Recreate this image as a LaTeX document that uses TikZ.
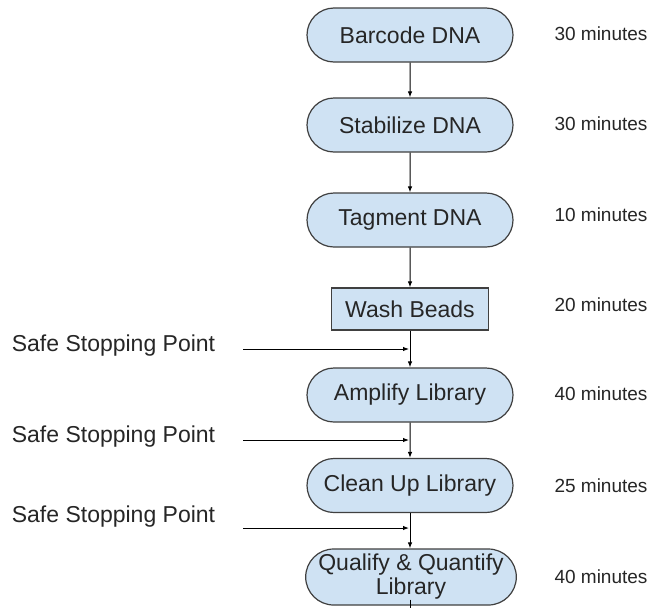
\documentclass[tikz,border=0pt]{standalone}
\usepackage{fontspec}
\setmainfont{Liberation Sans}
\usetikzlibrary{shapes.misc,arrows.meta}
\definecolor{boxfill}{HTML}{CFE2F3}
\definecolor{boxline}{HTML}{404040}
\definecolor{txt}{HTML}{262626}
\begin{document}
\begin{tikzpicture}[x=1pt,y=-1pt,
  stadium/.style={rounded rectangle, draw=boxline, line width=1.2pt, fill=boxfill,
    minimum width=210pt, minimum height=54pt, inner sep=2pt, text=txt,
    font=\fontsize{23}{27}\selectfont, align=center},
  plainbox/.style={rectangle, draw=boxline, line width=1.2pt, fill=boxfill,
    minimum width=157pt, minimum height=42pt, text=txt,
    font=\fontsize{23}{27}\selectfont},
  timelbl/.style={text=txt, font=\fontsize{19}{22}\selectfont, inner sep=0pt},
  stoplbl/.style={text=txt, font=\fontsize{23}{27}\selectfont, inner sep=0pt},
  flow/.style={draw=black, line width=1pt, -{Latex[length=6pt,width=4.5pt]}},
  plainline/.style={draw=black, line width=1pt}
]
\useasboundingbox (0,0) rectangle (655,608);
\fill[white] (0,0) rectangle (655,608);

\node[stadium] (b) at (410,35) {Barcode DNA};
\node[stadium] (s) at (410,125) {Stabilize DNA};
\node[stadium] (t) at (410,220) {Tagment DNA};
\node[plainbox] (w) at (410,309) {Wash Beads};
\node[stadium] (a) at (410,395) {Amplify Library};
\node[stadium] (c) at (410,485.5) {Clean Up Library};
\node[stadium, minimum height=56pt, inner sep=1pt] (q) at (411,577)
  {Qualify \& Quantify\\[-3pt]Library};

\node[timelbl] (tb) at (601,34) {30 minutes};
\node[timelbl] (ts) at (601,124) {30 minutes};
\node[timelbl] (tt) at (601,215) {10 minutes};
\node[timelbl] (tw) at (601,305) {20 minutes};
\node[timelbl] (ta) at (601,394) {40 minutes};
\node[timelbl] (tc) at (601,486) {25 minutes};
\node[timelbl] (tq) at (601,577) {40 minutes};

\node[stoplbl] (p1) at (113.5,346) {Safe Stopping Point};
\node[stoplbl] (p2) at (113.5,437) {Safe Stopping Point};
\node[stoplbl] (p3) at (113.5,517) {Safe Stopping Point};

\coordinate (p1s) at (243,349);
\coordinate (p1e) at (409,349);
\coordinate (p2s) at (243,440);
\coordinate (p2e) at (409,440);
\coordinate (p3s) at (243,528);
\coordinate (p3e) at (409,528);
\coordinate (qend) at (410,608);

\draw[flow] (b) -- (s);
\draw[flow] (s) -- (t);
\draw[flow] (t) -- (w);
\draw[flow] (w) -- (a);
\draw[flow] (a) -- (c);
\draw[flow] (c.south) -- (c.south |- q.north);
\draw[plainline] ([yshift=6pt]q.south -| c.south) -- (qend);

\draw[flow] (p1s) -- (p1e);
\draw[flow] (p2s) -- (p2e);
\draw[flow] (p3s) -- (p3e);
\end{tikzpicture}
\end{document}
